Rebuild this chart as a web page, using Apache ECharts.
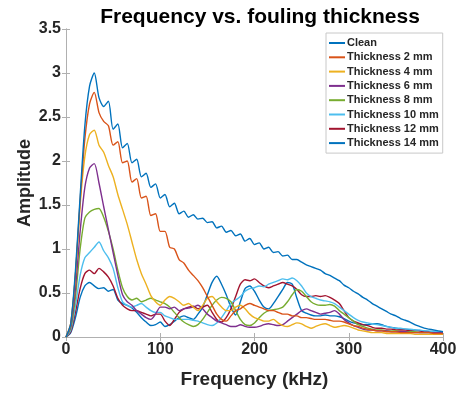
<!DOCTYPE html>
<html><head><meta charset="utf-8">
<script src="https://cdn.jsdelivr.net/npm/echarts@6/dist/echarts.min.js"></script>
<style>html,body{margin:0;padding:0;background:#fff}#c{width:465px;height:394px}</style>
</head><body><div id="c"></div>
<script>
// frequency grid (kHz), 0..400 step 5
const freq = [];
for (let f = 0; f <= 400; f += 5) freq.push(f);

const seriesNames = ["Clean","Thickness 2 mm","Thickness 4 mm","Thickness 6 mm","Thickness 8 mm","Thickness 10 mm","Thickness 12 mm","Thickness 14 mm"];
const seriesColors = ["#0072BD","#D95319","#EDB120","#7E2F8E","#77AC30","#4DBEEE","#A2142F","#0072BD"];

const clean = [0.00,0.15,0.75,1.60,2.40,2.85,3.00,2.72,2.62,2.68,2.36,2.42,2.15,2.20,1.98,2.02,1.82,1.86,1.70,1.74,
1.58,1.62,1.48,1.52,1.40,1.43,1.36,1.39,1.34,1.35,1.30,1.31,1.24,1.26,1.19,1.21,1.15,1.17,1.09,1.12,
1.05,1.07,1.00,1.02,0.96,0.97,0.92,0.93,0.88,0.88,0.85,0.82,0.80,0.78,0.76,0.72,0.70,0.67,0.64,0.59,
0.56,0.52,0.49,0.45,0.42,0.38,0.35,0.32,0.29,0.26,0.24,0.21,0.19,0.17,0.14,0.12,0.10,0.09,0.08,0.07,0.06];

const t2 = [0.00,0.15,0.70,1.55,2.25,2.65,2.78,2.55,2.45,2.40,2.18,2.22,1.98,2.00,1.76,1.80,1.58,1.60,1.38,1.40,
1.20,1.20,1.02,1.00,0.88,0.84,0.76,0.70,0.64,0.56,0.46,0.36,0.26,0.20,0.18,0.24,0.30,0.32,0.36,0.38,
0.36,0.34,0.32,0.30,0.30,0.28,0.26,0.26,0.24,0.24,0.22,0.22,0.21,0.20,0.20,0.20,0.19,0.18,0.18,0.17,
0.15,0.13,0.12,0.10,0.09,0.08,0.07,0.07,0.06,0.06,0.06,0.05,0.05,0.05,0.05,0.05,0.05,0.05,0.04,0.04,0.04];

const t4 = [0.00,0.15,0.70,1.50,2.05,2.30,2.35,2.18,2.10,1.95,1.82,1.62,1.45,1.28,1.08,0.88,0.72,0.60,0.47,0.40,
0.36,0.42,0.46,0.44,0.40,0.36,0.38,0.34,0.30,0.36,0.44,0.46,0.40,0.34,0.30,0.30,0.34,0.36,0.32,0.26,
0.22,0.20,0.18,0.18,0.20,0.16,0.13,0.12,0.14,0.16,0.15,0.12,0.10,0.12,0.14,0.15,0.13,0.11,0.12,0.13,
0.12,0.10,0.08,0.07,0.06,0.05,0.05,0.05,0.04,0.04,0.04,0.04,0.04,0.04,0.03,0.03,0.03,0.03,0.03,0.03,0.03];

const t6 = [0.00,0.12,0.55,1.20,1.70,1.92,1.97,1.75,1.48,1.22,0.96,0.70,0.48,0.40,0.36,0.30,0.26,0.22,0.20,0.26,
0.34,0.34,0.32,0.34,0.30,0.32,0.33,0.34,0.36,0.32,0.26,0.22,0.18,0.16,0.14,0.12,0.12,0.14,0.12,0.11,
0.11,0.12,0.14,0.15,0.14,0.13,0.14,0.18,0.22,0.26,0.30,0.32,0.30,0.28,0.26,0.27,0.28,0.30,0.26,0.20,
0.16,0.13,0.11,0.09,0.08,0.08,0.07,0.07,0.07,0.06,0.06,0.06,0.06,0.05,0.05,0.05,0.05,0.05,0.05,0.05,0.05];

const t8 = [0.00,0.10,0.45,1.00,1.35,1.42,1.45,1.46,1.36,1.20,1.00,0.76,0.56,0.46,0.42,0.44,0.40,0.42,0.44,0.42,
0.40,0.38,0.34,0.28,0.22,0.17,0.14,0.12,0.14,0.20,0.28,0.36,0.42,0.45,0.44,0.40,0.30,0.20,0.14,0.13,
0.16,0.22,0.27,0.30,0.31,0.32,0.34,0.40,0.48,0.54,0.52,0.46,0.40,0.37,0.36,0.36,0.37,0.35,0.30,0.26,
0.22,0.18,0.14,0.12,0.10,0.09,0.08,0.08,0.07,0.07,0.07,0.06,0.06,0.06,0.06,0.05,0.05,0.05,0.05,0.05,0.05];

const t10 = [0.00,0.08,0.35,0.70,0.90,0.96,1.02,1.08,0.98,0.90,0.78,0.56,0.40,0.36,0.34,0.36,0.38,0.34,0.30,0.28,
0.28,0.24,0.22,0.20,0.20,0.20,0.20,0.19,0.18,0.16,0.14,0.13,0.16,0.22,0.30,0.38,0.42,0.46,0.52,0.55,
0.56,0.58,0.57,0.60,0.62,0.64,0.66,0.65,0.67,0.64,0.58,0.50,0.46,0.44,0.42,0.41,0.40,0.38,0.34,0.30,
0.26,0.22,0.19,0.17,0.16,0.15,0.14,0.13,0.12,0.11,0.10,0.10,0.09,0.09,0.08,0.08,0.07,0.07,0.06,0.06,0.06];

const t12 = [0.00,0.06,0.28,0.55,0.72,0.76,0.72,0.78,0.74,0.68,0.58,0.44,0.36,0.32,0.30,0.30,0.28,0.26,0.24,0.26,
0.26,0.18,0.13,0.20,0.28,0.32,0.34,0.35,0.32,0.34,0.36,0.28,0.20,0.17,0.22,0.32,0.46,0.60,0.65,0.64,
0.66,0.62,0.58,0.56,0.58,0.60,0.62,0.60,0.58,0.54,0.48,0.46,0.46,0.47,0.46,0.47,0.45,0.42,0.38,0.30,
0.22,0.18,0.16,0.14,0.13,0.11,0.10,0.10,0.09,0.09,0.08,0.08,0.08,0.07,0.07,0.07,0.06,0.06,0.06,0.06,0.06];

const t14 = [0.00,0.05,0.22,0.45,0.58,0.62,0.58,0.55,0.56,0.52,0.54,0.42,0.38,0.36,0.33,0.28,0.22,0.17,0.13,0.14,
0.17,0.12,0.14,0.18,0.22,0.24,0.22,0.20,0.26,0.34,0.48,0.62,0.69,0.60,0.48,0.34,0.25,0.40,0.55,0.58,
0.52,0.42,0.34,0.32,0.38,0.46,0.54,0.62,0.60,0.44,0.30,0.27,0.25,0.24,0.24,0.25,0.24,0.24,0.23,0.21,
0.18,0.16,0.15,0.14,0.14,0.15,0.15,0.14,0.12,0.11,0.10,0.09,0.09,0.08,0.08,0.07,0.07,0.06,0.06,0.06,0.06];

const allValues = [clean,t2,t4,t6,t8,t10,t12,t14];
const xTicks = [0,100,200,300,400];
const yTicks = [0,0.5,1,1.5,2,2.5,3,3.5];

const FONT = '"Liberation Sans", Arial, sans-serif';
const axisGray = '#b0b0b0';
const txt = '#262626';

const chart = echarts.init(document.getElementById('c'), null, {renderer:'canvas'});
const baseX = {
  type:'value', min:0, max:400, interval:100,
  axisLine:{show:true, lineStyle:{color:axisGray, width:1}},
  axisTick:{show:true, inside:true, length:4, lineStyle:{color:axisGray}},
  splitLine:{show:false}
};
const baseY = {
  type:'value', min:0, max:3.5, interval:0.5,
  axisLine:{show:true, lineStyle:{color:axisGray, width:1}},
  axisTick:{show:true, inside:true, length:4, lineStyle:{color:axisGray}},
  splitLine:{show:false}
};
chart.setOption({
  animation:false,
  backgroundColor:'#fff',
  title:{text:'Frequency vs. fouling thickness', left:255, top:2, textAlign:'center',
    textStyle:{fontFamily:FONT, fontSize:21, fontWeight:'bold', color:'#000'}},
  grid:{left:66, right:22, top:29, bottom:56},
  legend:{
    orient:'vertical', left:326, top:33, padding:[3,4,3,3],
    backgroundColor:'#fff', borderColor:'#c8c8c8', borderWidth:1, borderRadius:0,
    itemWidth:16, itemHeight:2, itemGap:0.3, icon:'rect',
    textStyle:{fontFamily:FONT, fontSize:11, fontWeight:'bold', color:txt, lineHeight:14, padding:[0,0,0,-3]},
    data:seriesNames
  },
  xAxis:[
    Object.assign({}, baseX, {position:'bottom',
      name:'Frequency (kHz)', nameLocation:'middle', nameGap:33,
      nameTextStyle:{fontFamily:FONT, fontSize:19, fontWeight:'bold', color:txt},
      axisLabel:{fontFamily:FONT, fontSize:16, fontWeight:'bold', color:txt, margin:5,
        formatter:v=>xTicks.includes(v)?String(v):''}}),
    Object.assign({}, baseX, {position:'top', axisLabel:{show:false}})
  ],
  yAxis:[
    Object.assign({}, baseY, {position:'left',
      name:'Amplitude', nameLocation:'middle', nameGap:32, nameMoveOverlap:false,
      nameTextStyle:{fontFamily:FONT, fontSize:18, fontWeight:'bold', color:txt},
      axisLabel:{fontFamily:FONT, fontSize:16, fontWeight:'bold', color:txt, margin:5,
        formatter:v=>yTicks.includes(v)?String(v):''}}),
    Object.assign({}, baseY, {position:'right', axisLabel:{show:false}})
  ],
  series: allValues.map((vals,k)=>({
    name:seriesNames[k], type:'line', xAxisIndex:0, yAxisIndex:0,
    data: freq.map((f,i)=>[f, vals[i]]),
    showSymbol:false, symbol:'none', smooth:0.25,
    lineStyle:{color:seriesColors[k], width:1.4},
    itemStyle:{color:seriesColors[k]},
    z: 10 - k
  }))
});
</script></body></html>
